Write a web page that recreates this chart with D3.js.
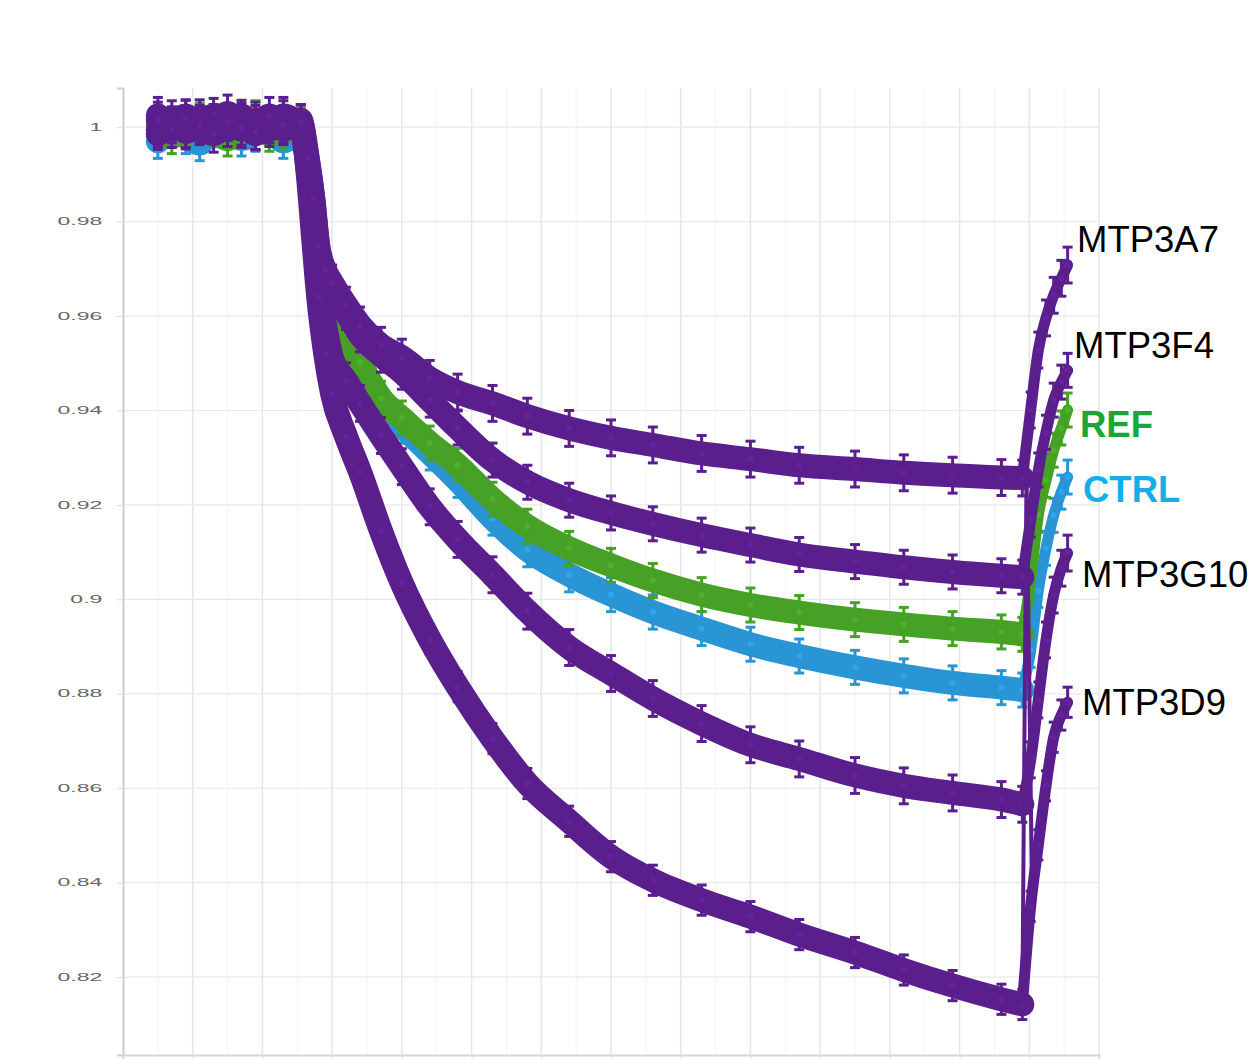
<!DOCTYPE html>
<html>
<head>
<meta charset="utf-8">
<script src="https://cdn.jsdelivr.net/npm/d3@7"></script>
<style>
  body { margin: 0; background: #fff; }
  svg { display: block; font-family: "Liberation Sans", Arial, sans-serif; }
</style>
</head>
<body>
<div id="chart"></div>
<script>
// time points: plateau, decay, recovery
const time = [5, 7, 9, 11, 13, 15, 17, 19, 21, 23, 25.5,
  26.5, 27.3, 28, 29, 30, 32, 34, 37, 40, 44, 48, 53, 58, 64, 70, 76, 83, 90, 97, 105, 112, 119, 126, 129,
  130.2, 131.3, 132.4, 133.5, 134.6, 135.5]

const valuesA7 = [1.0015, 0.9995, 1.002, 1.0005, 0.9985, 1.001, 1.0, 0.999, 1.0025, 1.0005, 1.001,
  0.9935, 0.985, 0.975, 0.9697, 0.967, 0.9623, 0.9581, 0.9538, 0.9513, 0.9468, 0.9439, 0.9415, 0.9388, 0.9362,
  0.9342, 0.9327, 0.9309, 0.9297, 0.9284, 0.9276, 0.9268, 0.9263, 0.9258, 0.9257,
  0.9401, 0.9528, 0.9596, 0.9644, 0.968, 0.9708]

const valuesF4 = [0.9995, 1.002, 0.999, 1.001, 1.0025, 0.9995, 1.0015, 1.001, 0.9995, 1.002, 1.0,
  0.993, 0.9845, 0.9744, 0.9687, 0.9659, 0.9608, 0.956, 0.9517, 0.9481, 0.9422, 0.9363, 0.9295, 0.9248, 0.921,
  0.9183, 0.916, 0.9136, 0.9115, 0.9095, 0.908, 0.9068, 0.9058, 0.905, 0.9047,
  0.9168, 0.9274, 0.9354, 0.9422, 0.946, 0.9485]

const valuesREF = [1.0005, 0.998, 1.0, 1.0015, 0.9995, 0.9975, 1.0005, 1.002, 0.9985, 0.999, 1.0005,
  0.9925, 0.984, 0.9729, 0.9665, 0.9638, 0.9564, 0.9502, 0.9426, 0.9384, 0.9331, 0.9284, 0.9212, 0.9155, 0.9108,
  0.9072, 0.904, 0.901, 0.8988, 0.8972, 0.8957, 0.8947, 0.8938, 0.8931, 0.8926,
  0.9041, 0.9178, 0.9252, 0.9316, 0.9363, 0.9401]

const valuesCTRL = [0.997, 0.9995, 0.998, 0.9965, 1.0005, 0.999, 0.9975, 0.9985, 1.0, 0.997, 0.999,
  0.992, 0.9835, 0.9723, 0.9655, 0.9627, 0.9549, 0.9485, 0.9411, 0.9367, 0.931, 0.9252, 0.9172, 0.9105, 0.9052,
  0.901, 0.8973, 0.8938, 0.8905, 0.888, 0.8856, 0.8838, 0.8823, 0.8813, 0.8808,
  0.8892, 0.9019, 0.9108, 0.9178, 0.9227, 0.9259]

const valuesG10 = [1.0025, 1.0005, 0.9995, 1.002, 1.001, 1.003, 0.9995, 1.0015, 1.0005, 1.0025, 0.9995,
  0.991, 0.979, 0.9665, 0.958, 0.951, 0.9463, 0.9415, 0.9347, 0.9281, 0.9196, 0.9127, 0.9052, 0.8975, 0.8898,
  0.8843, 0.879, 0.8737, 0.8692, 0.8662, 0.8627, 0.8605, 0.859, 0.8576, 0.8566,
  0.866, 0.8787, 0.8914, 0.9009, 0.9066, 0.9098]

const valuesD9 = [0.9985, 1.001, 1.0025, 0.9995, 1.0, 1.0015, 1.0025, 0.9985, 1.001, 0.9995, 1.0015,
  0.99, 0.976, 0.964, 0.952, 0.9435, 0.9345, 0.927, 0.9145, 0.9034, 0.8915, 0.8815, 0.8705, 0.861, 0.853,
  0.8455, 0.8405, 0.8363, 0.8328, 0.829, 0.8252, 0.8215, 0.8182, 0.8153, 0.8142,
  0.835, 0.848, 0.8605, 0.8708, 0.8755, 0.8782]

// thin trace at the moment the solution is switched back
const switchTime = [129, 129.6, 130.4]
const switchValues = [0.8142, 0.926, 0.838]

// standard error of each series
const seriesNames = ['CTRL', 'REF', 'MTP3G10', 'MTP3D9', 'MTP3F4', 'MTP3A7']
const seriesValues = [valuesCTRL, valuesREF, valuesG10, valuesD9, valuesF4, valuesA7]
const seriesErrors = [0.0036, 0.0036, 0.0038, 0.0032, 0.0036, 0.0038]

const yTicks = [1, 0.98, 0.96, 0.94, 0.92, 0.9, 0.88, 0.86, 0.84, 0.82]
const xGrid = [10, 20, 30, 40, 50, 60, 70, 80, 90, 100, 110, 120, 130, 140]

const colors = {
  CTRL: '#2a95d5', REF: '#46a126',
  MTP3G10: '#5b1f8d', MTP3D9: '#5b1f8d', MTP3F4: '#5b1f8d', MTP3A7: '#5b1f8d'
}

// end labels, pixel positions
const labels = [
  { text: 'MTP3A7', x: 1077, y: 252, color: '#000', weight: 'normal' },
  { text: 'MTP3F4', x: 1074, y: 358, color: '#000', weight: 'normal' },
  { text: 'REF', x: 1080, y: 437, color: '#1aa63a', weight: 'bold' },
  { text: 'CTRL', x: 1083, y: 502, color: '#14aee8', weight: 'bold' },
  { text: 'MTP3G10', x: 1082, y: 587, color: '#000', weight: 'normal' },
  { text: 'MTP3D9', x: 1082, y: 715, color: '#000', weight: 'normal' }
]

const width = 1248
const height = 1060
const plot = { left: 123, right: 1099, top: 88, bottom: 1055 }
const recoveryStart = 34 // index of last decay point

const x = d3.scaleLinear().domain([0, 140]).range([plot.left, plot.right])
const y = d3.scaleLinear().domain([0.8035, 1.0083]).range([plot.bottom, plot.top])

const svg = d3.select('#chart').append('svg')
  .attr('width', width)
  .attr('height', height)

// grid
const grid = svg.append('g')
grid.selectAll('.vminor')
  .data(xGrid.map(d => d - 5))
  .enter().append('line')
  .attr('x1', d => x(d)).attr('x2', d => x(d))
  .attr('y1', plot.top).attr('y2', plot.bottom)
  .attr('stroke', '#f4f4f4').attr('stroke-width', 1)

grid.selectAll('.vmajor')
  .data(xGrid)
  .enter().append('line')
  .attr('x1', d => x(d)).attr('x2', d => x(d))
  .attr('y1', plot.top).attr('y2', plot.bottom)
  .attr('stroke', '#e6e6e6').attr('stroke-width', 1.5)

grid.selectAll('.hmajor')
  .data(yTicks)
  .enter().append('line')
  .attr('x1', plot.left).attr('x2', plot.right)
  .attr('y1', d => y(d)).attr('y2', d => y(d))
  .attr('stroke', '#e8e8e8').attr('stroke-width', 1.2)

// y axis
const axisY = d3.axisLeft(y)
  .tickValues(yTicks)
  .tickSize(6)
  .tickFormat(d => String(+d.toFixed(2)))

const gy = svg.append('g')
  .attr('transform', `translate(${plot.left}, 0)`)
  .call(axisY)
gy.select('.domain').attr('stroke', '#cfcfcf').attr('stroke-width', 2.2)
gy.selectAll('.tick line').attr('stroke', '#dcdcdc')
gy.selectAll('.tick text')
  .attr('x', -9)
  .attr('transform', 'scale(2.3,1)')
  .attr('font-size', 10)
  .attr('fill', '#666')

// x axis (labels fall outside the frame)
const axisX = d3.axisBottom(x).tickValues(xGrid).tickSize(4).tickFormat('')
const gx = svg.append('g')
  .attr('transform', `translate(0, ${plot.bottom})`)
  .call(axisX)
gx.select('.domain').attr('stroke', '#d6d6d6').attr('stroke-width', 2)
gx.selectAll('.tick line').attr('stroke', '#dcdcdc')

// series
const line = d3.line()
  .x(d => x(d.t))
  .y(d => y(d.v))
  .curve(d3.curveMonotoneX)

seriesNames.forEach((name, i) => {
  const data = time.map((t, j) => ({ t, v: seriesValues[i][j], e: seriesErrors[i] }))
  const color = colors[name]
  const g = svg.append('g').attr('class', 'series-' + name)

  // main band
  g.append('path')
    .datum(data.slice(0, recoveryStart + 1))
    .attr('d', line)
    .attr('fill', 'none')
    .attr('stroke', color)
    .attr('stroke-width', 24)
    .attr('stroke-linejoin', 'round')
    .attr('stroke-linecap', 'round')

  // recovery, thinner
  g.append('path')
    .datum(data.slice(recoveryStart))
    .attr('d', line)
    .attr('fill', 'none')
    .attr('stroke', color)
    .attr('stroke-width', 11)
    .attr('stroke-linejoin', 'round')
    .attr('stroke-linecap', 'round')

  // error bars
  g.selectAll('.err')
    .data(data)
    .enter().append('line')
    .attr('x1', d => x(d.t)).attr('x2', d => x(d.t))
    .attr('y1', d => y(d.v - d.e)).attr('y2', d => y(d.v + d.e))
    .attr('stroke', color).attr('stroke-width', 3)

  g.selectAll('.capTop')
    .data(data)
    .enter().append('line')
    .attr('x1', d => x(d.t) - 5).attr('x2', d => x(d.t) + 5)
    .attr('y1', d => y(d.v + d.e)).attr('y2', d => y(d.v + d.e))
    .attr('stroke', color).attr('stroke-width', 3)

  g.selectAll('.capBottom')
    .data(data)
    .enter().append('line')
    .attr('x1', d => x(d.t) - 5).attr('x2', d => x(d.t) + 5)
    .attr('y1', d => y(d.v - d.e)).attr('y2', d => y(d.v - d.e))
    .attr('stroke', color).attr('stroke-width', 3)

  g.selectAll('circle')
    .data(data)
    .enter().append('circle')
    .attr('cx', d => x(d.t))
    .attr('cy', d => y(d.v))
    .attr('r', 3)
    .attr('fill', d3.color(color).brighter(0.5))
    .attr('opacity', 0.55)
})

// thin switch trace
svg.append('path')
  .datum(switchTime.map((t, j) => ({ t, v: switchValues[j] })))
  .attr('d', d3.line().x(d => x(d.t)).y(d => y(d.v)))
  .attr('fill', 'none')
  .attr('stroke', colors.MTP3D9)
  .attr('stroke-width', 4)

// labels
svg.selectAll('.series-label')
  .data(labels)
  .enter().append('text')
  .attr('class', 'series-label')
  .attr('x', d => d.x)
  .attr('y', d => d.y)
  .attr('font-size', 36.5)
  .attr('font-weight', d => d.weight)
  .attr('fill', d => d.color)
  .text(d => d.text)
</script>
</body>
</html>
